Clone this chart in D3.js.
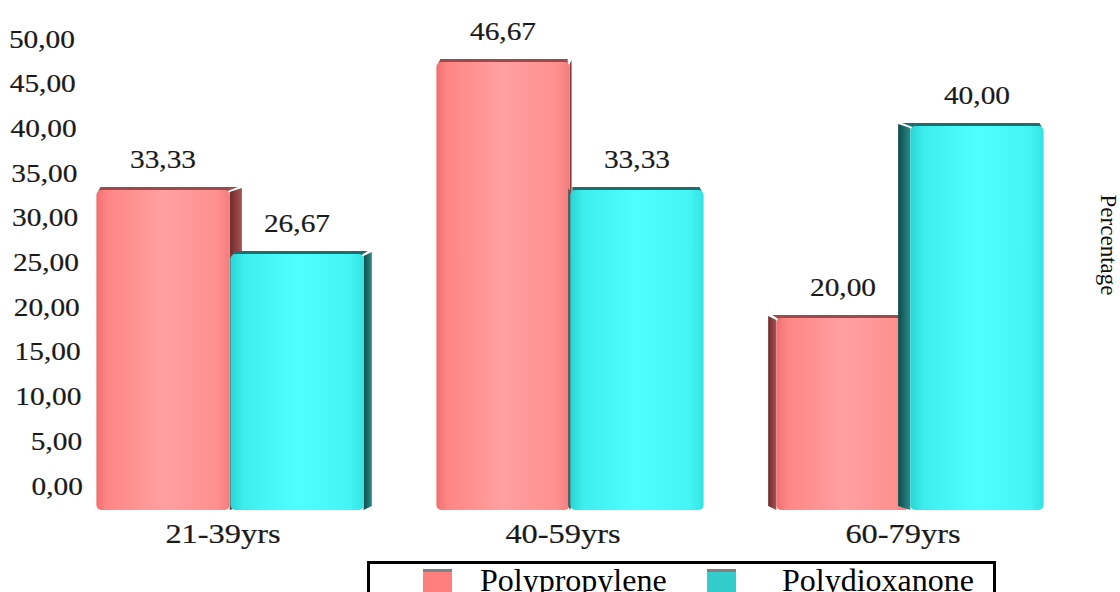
<!DOCTYPE html>
<html>
<head>
<meta charset="utf-8">
<script src="https://cdn.jsdelivr.net/npm/d3@7"></script>
<style>
  html, body { margin: 0; padding: 0; background: #fff; }
  svg { display: block; font-family: "Liberation Serif", "Times New Roman", serif; }
</style>
</head>
<body>
<div id="chart"></div>
<script>
const categories = ['21-39yrs', '40-59yrs', '60-79yrs'];
const seriesNames = ['Polypropylene', 'Polydioxanone'];
const polypropylene = [33.33, 46.67, 20.0];
const polydioxanone = [26.67, 33.33, 40.0];
const yTicks = [0, 5, 10, 15, 20, 25, 30, 35, 40, 45, 50];

const width = 1120;
const height = 592;

const commaLocale = d3.formatLocale({ decimal: ',', thousands: '.', grouping: [3], currency: ['', ''] });
const fmt = commaLocale.format('.2f');

const rows = categories.map((c, i) => ({
  category: c,
  values: [polypropylene[i], polydioxanone[i]]
}));

const svg = d3
  .select('#chart')
  .append('svg')
  .attr('width', width)
  .attr('height', height);

const defs = svg.append('defs');

function hGradient(id, stops) {
  const g = defs.append('linearGradient').attr('id', id)
    .attr('x1', '0%').attr('x2', '100%').attr('y1', '0%').attr('y2', '0%');
  stops.forEach(s => g.append('stop').attr('offset', s[0]).attr('stop-color', s[1]));
}
hGradient('front0', [[0, '#f07070'], [0.08, '#ff8585'], [0.5, '#ffa0a0'], [0.9, '#ff9090'], [1, '#f27e7e']]);
hGradient('front1', [[0, '#2ad4d4'], [0.1, '#3eeeee'], [0.5, '#4dffff'], [0.9, '#42f4f4'], [1, '#36e2e2']]);
hGradient('side0', [[0, '#6e2a2a'], [1, '#a85252']]);
hGradient('side1', [[0, '#0f4a4a'], [1, '#2a8c8c']]);

// the reference text is drawn a bit wider than the font
function stretch(sel, sx) {
  sel.each(function() {
    const t = d3.select(this);
    const x = +t.attr('x') || 0;
    const yy = +t.attr('y') || 0;
    t.attr('x', 0).attr('y', 0).attr('dy', null)
      .attr('transform', `translate(${x},${yy}) scale(${sx},1)`);
  });
}

// scales: bars live on the front plane, tick labels on the back wall
const x0 = d3.scaleBand().domain(categories).range([60, 1080]).paddingInner(0.21).paddingOuter(0.105);
const x1 = d3.scaleBand().domain(seriesNames).range([0, x0.bandwidth()]).padding(0.005);
const y = d3.scaleLinear().domain([0, 50]).range([510, 30]);
const yWall = d3.scaleLinear().domain([0, 50]).range([485, 38]);

const vanishX = 570;
const sideK = 0.03;

// y labels
const yAxis = svg.append('g')
  .attr('transform', 'translate(80,0)')
  .call(d3.axisLeft(yWall).tickValues(yTicks).tickSize(0).tickPadding(0).tickFormat(fmt));
yAxis.select('.domain').remove();
yAxis.selectAll('text')
  .attr('x', d => 3 - (d / 50) * 8)
  .attr('y', 9)
  .attr('fill', '#1a1a1a')
  .attr('stroke', '#1a1a1a')
  .attr('stroke-width', 0.2)
  .style('font-family', '"Liberation Serif", serif')
  .style('font-size', '26px')
  .call(stretch, 1.13);

// bars
const groups = svg.selectAll('g.grp')
  .data(rows)
  .enter()
  .append('g')
  .attr('class', 'grp')
  .attr('transform', d => `translate(${x0(d.category)},0)`);

const bars = groups.selectAll('g.bar')
  .data(d => d.values.map((v, i) => ({ v, i, cx: x0(d.category) + x1(seriesNames[i]) + x1.bandwidth() / 2 })))
  .enter()
  .append('g')
  .attr('class', 'bar');

bars.each(function(d) {
  const g = d3.select(this);
  const left = x1(seriesNames[d.i]);
  const w = x1.bandwidth();
  const top = y(d.v);
  const bottom = y(0);
  const dx = -(d.cx - vanishX) * sideK; // side face width, sign = which side shows
  const r = 5;
  if (Math.abs(dx) > 2) {
    const sx = dx > 0 ? left + w : left;
    const pts = [[sx, top + 2], [sx + dx, top - 2], [sx + dx, bottom - 4], [sx, bottom]];
    g.append('path')
      .attr('d', d3.line()(pts) + 'Z')
      .attr('fill', `url(#side${d.i})`)
      .attr('stroke', 'none');
  }
  // top face strip
  const tdx = Math.abs(dx) > 2 ? dx : 0;
  g.append('path')
    .attr('d', d3.line()([[left + 2, top + 1], [left + 4 + Math.min(tdx, 0), top - 3], [left + w - 4 + Math.max(tdx, 0), top - 3], [left + w - 2, top + 1]]) + 'Z')
    .attr('fill', d.i === 0 ? '#9c4a4a' : '#1d6e6e');
  g.append('rect')
    .attr('x', left)
    .attr('y', top)
    .attr('width', w)
    .attr('height', bottom - top)
    .attr('rx', r)
    .attr('fill', `url(#front${d.i})`);
});

// value labels
groups.selectAll('text.val')
  .data(d => d.values.map((v, i) => ({ v, i })))
  .enter()
  .append('text')
  .attr('class', 'val')
  .attr('x', d => x1(seriesNames[d.i]) + x1.bandwidth() / 2)
  .attr('y', d => y(d.v) - 22)
  .attr('text-anchor', 'middle')
  .attr('fill', '#1a1a1a')
  .attr('stroke', '#1a1a1a')
  .attr('stroke-width', 0.2)
  .style('font-size', '26px')
  .text(d => fmt(d.v))
  .call(stretch, 1.13);

// category labels
svg.selectAll('text.cat')
  .data(categories)
  .enter()
  .append('text')
  .attr('class', 'cat')
  .attr('x', d => x0(d) + x0.bandwidth() / 2 - 7)
  .attr('y', 543)
  .attr('text-anchor', 'middle')
  .attr('fill', '#1a1a1a')
  .attr('stroke', '#1a1a1a')
  .attr('stroke-width', 0.2)
  .style('font-size', '27px')
  .text(d => d)
  .call(stretch, 1.2);

// axis title on the right
svg.append('text')
  .attr('transform', 'translate(1101,245) rotate(90)')
  .attr('text-anchor', 'middle')
  .attr('fill', '#111')
  .style('font-size', '23px')
  .text('Percentage');

// legend (runs off the bottom edge, as in the original)
const legend = svg.append('g');
legend.append('rect')
  .attr('x', 368.5)
  .attr('y', 562.5)
  .attr('width', 626)
  .attr('height', 60)
  .attr('fill', '#fff')
  .attr('stroke', '#000')
  .attr('stroke-width', 3);

const legendColors = ['#ff7f7f', '#33cccc'];
const legendX = [423, 707];
const legendTextX = [480, 782];
seriesNames.forEach((name, i) => {
  legend.append('rect')
    .attr('x', legendX[i]).attr('y', 569).attr('width', 29).attr('height', 30)
    .attr('fill', legendColors[i]);
  legend.append('rect')
    .attr('x', legendX[i]).attr('y', 569).attr('width', 29).attr('height', 3)
    .attr('fill', '#808080');
  legend.append('text')
    .attr('x', legendTextX[i])
    .attr('y', 591)
    .attr('fill', '#000')
    .style('font-size', '32px')
    .text(name);
});
</script>
</body>
</html>
